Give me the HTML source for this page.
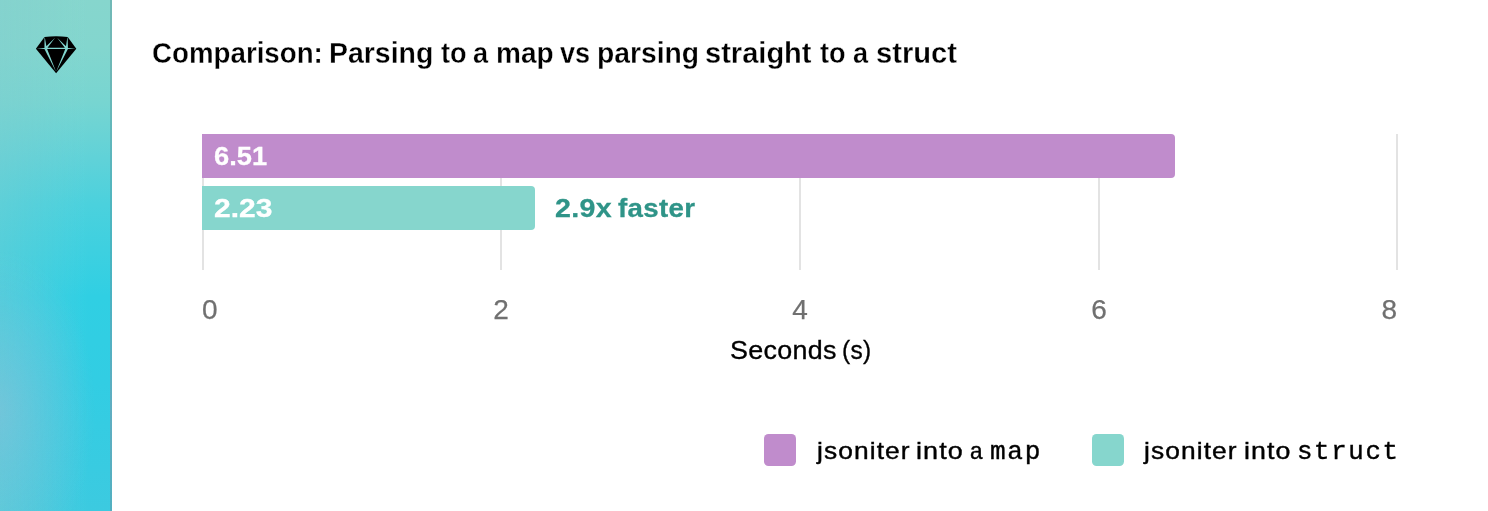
<!DOCTYPE html>
<html lang="en">
<head>
<meta charset="utf-8">
<title>Comparison: Parsing to a map vs parsing straight to a struct</title>
<style>
html,body{margin:0;padding:0;background:#fff;}
body{width:1488px;height:511px;position:relative;overflow:hidden;font-family:"Liberation Sans",sans-serif;color:#000;}
.side{position:absolute;left:0;top:0;width:110px;height:511px;border-right:2px solid rgba(0,25,40,0.14);
 background:
  radial-gradient(ellipse 95px 160px at 0px 410px, rgba(160,188,215,0.42), rgba(160,185,215,0) 100%),
  linear-gradient(90deg, rgba(130,205,208,0.34) 0%, rgba(130,205,208,0) 80%),
  linear-gradient(180deg,#86d6cd 0%,#83d6ce 9%,#77d5d1 20%,#60d2d8 31%,#4bd1dd 40%,#30cfe3 58%,#32cde3 75%,#3ccae0 100%);}
.icon{position:absolute;left:30px;top:30px;width:52px;height:48px;}
.t{position:absolute;left:0;top:0;margin:0;width:0;height:0;}
.t span{position:absolute;white-space:nowrap;transform-origin:0 0;}
h1.t span{font:700 28.8px/34px 'Liberation Sans',sans-serif;-webkit-text-stroke:0.3px #fff;}
.bt span{font:700 26px/32px 'Liberation Sans',sans-serif;-webkit-text-stroke:0.3px #fff;color:#fff;}
.fast span{font:700 26px/32px 'Liberation Sans',sans-serif;letter-spacing:0.3px;-webkit-text-stroke:0.3px #2f9488;color:#2f9488;}
.xl span{font:400 26px/32px 'Liberation Sans',sans-serif;-webkit-text-stroke:0.35px #000;letter-spacing:0.3px;}
.lg span{font:400 24px/32px 'Liberation Sans',sans-serif;-webkit-text-stroke:0.4px #000;letter-spacing:1px;}
.lg code{position:absolute;left:0;top:0;}
.lg code span{font:400 26px/32px 'Liberation Mono',monospace;-webkit-text-stroke:0.4px #000;letter-spacing:1.7px;}
.grid{position:absolute;top:134px;height:136px;width:2px;background:#e3e3e3;}
.bar{position:absolute;left:202px;height:44px;border-radius:0 4px 4px 0;}
.b1{top:134px;width:973px;background:#c08ccc;}
.b2{top:186px;width:333px;background:#86d6cd;}
.tick{position:absolute;top:294px;font-size:28px;line-height:32px;color:#707070;white-space:nowrap;-webkit-text-stroke:0.25px #707070;}
.sw{position:absolute;top:434px;width:32px;height:32px;border-radius:4.5px;}
</style>
</head>
<body>
<div class="side"></div>
<svg class="icon" viewBox="30 30 52 48">
  <path d="M44.5,37.1 Q56.1,35.2 67.7,37.1 L76.3,48.8 L56.1,73.2 L35.9,48.8 Z" fill="#000"/>
  <path d="M45.60,49.10 L66.80,49.10 L66.80,47.70 L45.60,47.70Z M45.58,47.70 L36.60,48.65 L36.60,48.75 L45.62,49.10Z M66.78,49.10 L75.60,48.75 L75.60,48.65 L66.82,47.70Z M46.75,48.30 L44.85,37.59 L44.55,37.61 L44.45,48.50Z M67.95,48.47 L67.65,37.61 L67.35,37.59 L65.65,48.33Z M46.42,49.13 L54.88,38.05 L54.80,37.98 L44.78,47.67Z M67.61,47.66 L57.42,37.98 L57.35,38.05 L65.99,49.14Z M44.46,48.91 L55.48,70.86 L55.67,70.78 L46.74,47.89Z M65.66,47.88 L56.54,70.78 L56.73,70.86 L67.94,48.92Z" fill="#80d5ce"/>
</svg>
<h1 class="t"><span style="left:152.0px;top:36.0px;transform:scaleX(0.962);">Comparison:</span> <span style="left:328.8px;top:36.0px;transform:scaleX(0.988);">Parsing</span> <span style="left:440.7px;top:36.0px;transform:scaleX(0.940);">to</span> <span style="left:473.4px;top:36.0px;transform:scaleX(0.940);">a</span> <span style="left:496.0px;top:36.0px;transform:scaleX(0.973);">map</span> <span style="left:560.2px;top:36.0px;transform:scaleX(0.940);">vs</span> <span style="left:597.0px;top:36.0px;transform:scaleX(0.981);">parsing</span> <span style="left:705.1px;top:36.0px;transform:scaleX(1.009);">straight</span> <span style="left:819.9px;top:36.0px;transform:scaleX(0.940);">to</span> <span style="left:852.9px;top:36.0px;transform:scaleX(0.940);">a</span> <span style="left:876.1px;top:36.0px;transform:scaleX(1.013);">struct</span></h1>

<div class="grid" style="left:202px"></div>
<div class="grid" style="left:500px"></div>
<div class="grid" style="left:799px"></div>
<div class="grid" style="left:1098px"></div>
<div class="grid" style="left:1396px"></div>

<div class="bar b1"></div>
<div class="bar b2"></div>
<div class="t bt"><span style="left:214.0px;top:140.3px;transform:scaleX(1.049);">6.51</span></div>
<div class="t bt"><span style="left:213.6px;top:192.3px;transform:scaleX(1.153);">2.23</span></div>
<div class="t fast"><span style="left:554.7px;top:192.0px;transform:scaleX(1.100);">2.9x</span> <span style="left:618.1px;top:192.0px;transform:scaleX(1.064);">faster</span></div>

<div class="tick" style="left:202px">0</div>
<div class="tick" style="left:401px;width:200px;text-align:center">2</div>
<div class="tick" style="left:700px;width:200px;text-align:center">4</div>
<div class="tick" style="left:999px;width:200px;text-align:center">6</div>
<div class="tick" style="left:1197px;width:200px;text-align:right">8</div>
<div class="t xl"><span style="left:729.8px;top:334.0px;transform:scaleX(1.033);">Seconds</span> <span style="left:842.1px;top:334.0px;transform:scaleX(0.940);">(s)</span></div>

<div class="sw" style="left:764px;background:#c08ccc"></div>
<div class="t lg"><span style="left:816.5px;top:434.7px;transform:scaleX(1.098);">jsoniter</span> <span style="left:916.1px;top:434.7px;transform:scaleX(1.122);">into</span> <span style="left:969.6px;top:434.7px;transform:scaleX(0.940);">a</span> <code><span style="left:990.2px;top:435.7px;transform:scaleX(1.004);">map</span></code></div>
<div class="sw" style="left:1092px;background:#86d6cd"></div>
<div class="t lg"><span style="left:1144.4px;top:434.7px;transform:scaleX(1.098);">jsoniter</span> <span style="left:1244.2px;top:434.7px;transform:scaleX(1.115);">into</span> <code><span style="left:1297.1px;top:435.7px;transform:scaleX(0.989);">struct</span></code></div>
</body>
</html>
